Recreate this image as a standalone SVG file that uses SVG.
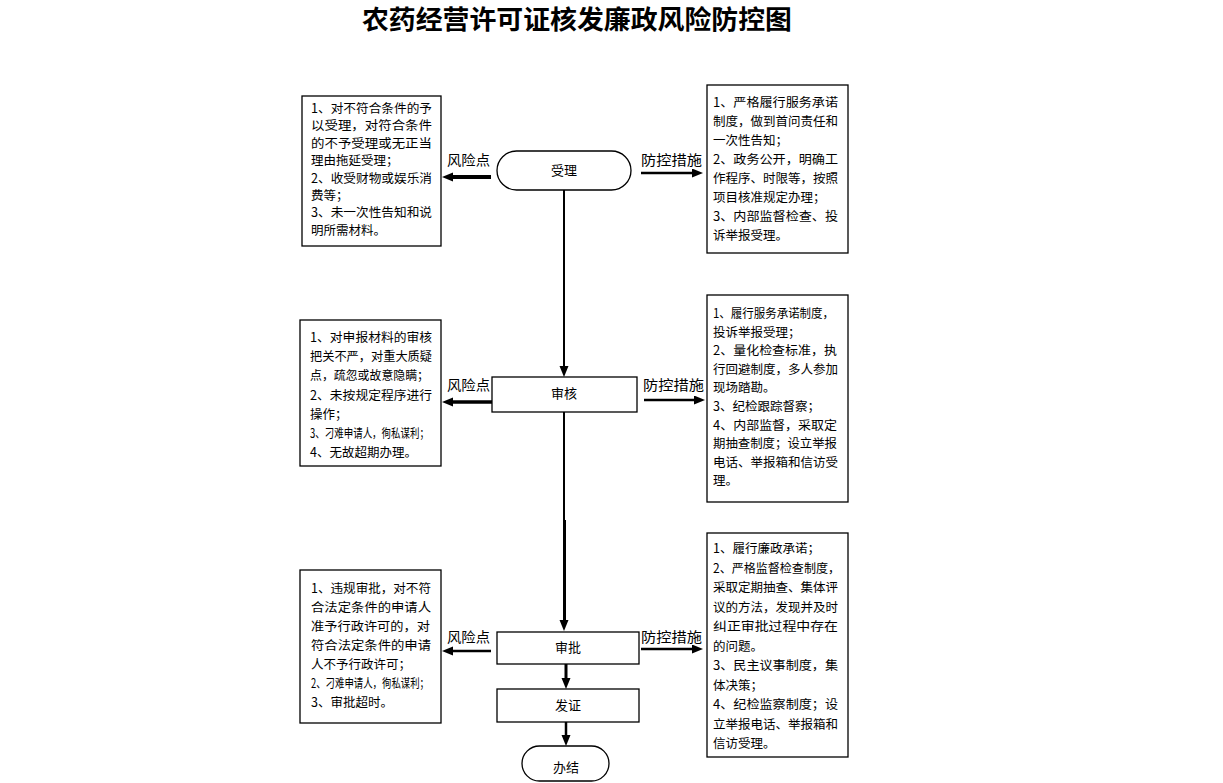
<svg xmlns="http://www.w3.org/2000/svg" width="1223" height="783" viewBox="0 0 1223 783">
<style>
.bx{fill:#fff;stroke:#000;stroke-width:1.3}
.t{font-family:"Noto Sans CJK SC","Liberation Sans",sans-serif;font-size:12.5px;fill:#000}
.n{font-family:"Noto Sans CJK SC","Liberation Sans",sans-serif;font-size:13px;fill:#000;text-anchor:middle}
.lb{font-family:"Noto Sans CJK SC","Liberation Sans",sans-serif;font-size:14px;fill:#000}
.ttl{font-family:"Noto Sans CJK SC","Liberation Sans",sans-serif;font-size:26px;font-weight:bold;fill:#000;text-anchor:middle}
.c{fill:none;stroke:#000}
</style>
<defs>
<marker id="ah" markerUnits="userSpaceOnUse" markerWidth="12" markerHeight="10" refX="1" refY="4.5" orient="auto">
<path d="M0,0 L11,4.5 L0,9 z" fill="#000"/>
</marker>
</defs>
<rect width="1223" height="783" fill="#fff"/>
<text class="ttl" x="577" y="29" textLength="430" lengthAdjust="spacingAndGlyphs">农药经营许可证核发廉政风险防控图</text>

<g id="connectors">
<line class="c" x1="564" y1="190" x2="564" y2="367" stroke-width="2" marker-end="url(#ah)"/>
<line class="c" x1="564" y1="412" x2="564" y2="621" stroke-width="2" marker-end="url(#ah)"/>
<line class="c" x1="564.5" y1="520" x2="564.5" y2="622" stroke-width="3"/>
<line class="c" x1="566" y1="664" x2="566" y2="679" stroke-width="3" marker-end="url(#ah)"/>
<line class="c" x1="566" y1="722" x2="566" y2="736" stroke-width="2.5" marker-end="url(#ah)"/>
<line class="c" x1="491" y1="177" x2="452" y2="177" stroke-width="4" marker-end="url(#ah)"/>
<line class="c" x1="641" y1="173" x2="693" y2="173" stroke-width="2.5" marker-end="url(#ah)"/>
<line class="c" x1="492" y1="402" x2="452" y2="402" stroke-width="3.5" marker-end="url(#ah)"/>
<line class="c" x1="644" y1="400" x2="695" y2="400" stroke-width="2.5" marker-end="url(#ah)"/>
<line class="c" x1="491" y1="651" x2="452" y2="651" stroke-width="2.5" marker-end="url(#ah)"/>
<line class="c" x1="641" y1="649" x2="693" y2="649" stroke-width="2.5" marker-end="url(#ah)"/>
<text class="lb" x="447" y="165" textLength="43" lengthAdjust="spacingAndGlyphs">风险点</text>
<text class="lb" x="641" y="165" textLength="61" lengthAdjust="spacingAndGlyphs">防控措施</text>
<text class="lb" x="447" y="390" textLength="43" lengthAdjust="spacingAndGlyphs">风险点</text>
<text class="lb" x="643" y="390" textLength="61" lengthAdjust="spacingAndGlyphs">防控措施</text>
<text class="lb" x="447" y="642" textLength="43" lengthAdjust="spacingAndGlyphs">风险点</text>
<text class="lb" x="641" y="642" textLength="61" lengthAdjust="spacingAndGlyphs">防控措施</text>
</g>

<g id="node-shouli">
<rect class="bx" x="497" y="151" width="134" height="39" rx="19.5" ry="19.5"/>
<text class="n" x="564" y="175">受理</text>
</g>
<g id="node-shenhe">
<rect class="bx" x="492" y="377" width="145" height="35"/>
<text class="n" x="564" y="398">审核</text>
</g>
<g id="node-shenpi">
<rect class="bx" x="497" y="632" width="142" height="32"/>
<text class="n" x="568" y="652">审批</text>
</g>
<g id="node-fazheng">
<rect class="bx" x="497" y="689" width="142" height="33"/>
<text class="n" x="568" y="710">发证</text>
</g>
<g id="node-banjie">
<rect class="bx" x="522" y="746" width="87" height="35" rx="17.5" ry="17.5"/>
<text class="n" x="566" y="772">办结</text>
</g>

<g id="risk-1">
<rect class="bx" x="302" y="96" width="139" height="150"/>
<text class="t" x="311" y="113" textLength="121" lengthAdjust="spacingAndGlyphs">1、对不符合条件的予</text>
<text class="t" x="311" y="130.4" textLength="121" lengthAdjust="spacingAndGlyphs">以受理，对符合条件</text>
<text class="t" x="311" y="147.8" textLength="121" lengthAdjust="spacingAndGlyphs">的不予受理或无正当</text>
<text class="t" x="311" y="165.2">理由拖延受理；</text>
<text class="t" x="311" y="182.6" textLength="121" lengthAdjust="spacingAndGlyphs">2、收受财物或娱乐消</text>
<text class="t" x="311" y="200">费等；</text>
<text class="t" x="311" y="217.4" textLength="121" lengthAdjust="spacingAndGlyphs">3、未一次性告知和说</text>
<text class="t" x="311" y="234.8">明所需材料。</text>
</g>

<g id="measure-1">
<rect class="bx" x="707" y="85" width="141" height="168"/>
<text class="t" x="713" y="107" textLength="125" lengthAdjust="spacingAndGlyphs">1、严格履行服务承诺</text>
<text class="t" x="713" y="126" textLength="125" lengthAdjust="spacingAndGlyphs">制度，做到首问责任和</text>
<text class="t" x="713" y="145">一次性告知；</text>
<text class="t" x="713" y="164" textLength="125" lengthAdjust="spacingAndGlyphs">2、政务公开，明确工</text>
<text class="t" x="713" y="183" textLength="125" lengthAdjust="spacingAndGlyphs">作程序、时限等，按照</text>
<text class="t" x="713" y="202">项目核准规定办理；</text>
<text class="t" x="713" y="221" textLength="125" lengthAdjust="spacingAndGlyphs">3、内部监督检查、投</text>
<text class="t" x="713" y="240">诉举报受理。</text>
</g>

<g id="risk-2">
<rect class="bx" x="300" y="320" width="141" height="146"/>
<text class="t" x="310" y="342" textLength="122" lengthAdjust="spacingAndGlyphs">1、对申报材料的审核</text>
<text class="t" x="310" y="361.2" textLength="122" lengthAdjust="spacingAndGlyphs">把关不严，对重大质疑</text>
<text class="t" x="310" y="380.4" textLength="119" lengthAdjust="spacingAndGlyphs">点，疏忽或故意隐瞒；</text>
<text class="t" x="310" y="399.6" textLength="122" lengthAdjust="spacingAndGlyphs">2、未按规定程序进行</text>
<text class="t" x="310" y="418.8">操作；</text>
<text class="t" x="310" y="438" textLength="119" lengthAdjust="spacingAndGlyphs">3、刁难申请人，徇私谋利；</text>
<text class="t" x="310" y="457.2">4、无故超期办理。</text>
</g>

<g id="measure-2">
<rect class="bx" x="707" y="295" width="141" height="207"/>
<text class="t" x="713" y="318" textLength="121" lengthAdjust="spacingAndGlyphs">1、履行服务承诺制度，</text>
<text class="t" x="713" y="336.6">投诉举报受理；</text>
<text class="t" x="713" y="355.2" textLength="124" lengthAdjust="spacingAndGlyphs">2、量化检查标准，执</text>
<text class="t" x="713" y="373.8" textLength="125" lengthAdjust="spacingAndGlyphs">行回避制度，多人参加</text>
<text class="t" x="713" y="392.4">现场踏勘。</text>
<text class="t" x="713" y="411">3、纪检跟踪督察；</text>
<text class="t" x="713" y="429.6" textLength="124" lengthAdjust="spacingAndGlyphs">4、内部监督，采取定</text>
<text class="t" x="713" y="448.2" textLength="124" lengthAdjust="spacingAndGlyphs">期抽查制度；设立举报</text>
<text class="t" x="713" y="466.8" textLength="125" lengthAdjust="spacingAndGlyphs">电话、举报箱和信访受</text>
<text class="t" x="713" y="485.4">理。</text>
</g>

<g id="risk-3">
<rect class="bx" x="300" y="570" width="141" height="153"/>
<text class="t" x="311" y="593" textLength="120" lengthAdjust="spacingAndGlyphs">1、违规审批，对不符</text>
<text class="t" x="311" y="612" textLength="120" lengthAdjust="spacingAndGlyphs">合法定条件的申请人</text>
<text class="t" x="311" y="631" textLength="119" lengthAdjust="spacingAndGlyphs">准予行政许可的，对</text>
<text class="t" x="311" y="650" textLength="120" lengthAdjust="spacingAndGlyphs">符合法定条件的申请</text>
<text class="t" x="311" y="669">人不予行政许可；</text>
<text class="t" x="311" y="688" textLength="118" lengthAdjust="spacingAndGlyphs">2、刁难申请人，徇私谋利；</text>
<text class="t" x="311" y="707">3、审批超时。</text>
</g>

<g id="measure-3">
<rect class="bx" x="707" y="533" width="141" height="224"/>
<text class="t" x="713" y="553">1、履行廉政承诺；</text>
<text class="t" x="713" y="572.5" textLength="127" lengthAdjust="spacingAndGlyphs">2、严格监督检查制度，</text>
<text class="t" x="713" y="592" textLength="125" lengthAdjust="spacingAndGlyphs">采取定期抽查、集体评</text>
<text class="t" x="713" y="611.5" textLength="125" lengthAdjust="spacingAndGlyphs">议的方法，发现并及时</text>
<text class="t" x="713" y="631" textLength="125" lengthAdjust="spacingAndGlyphs">纠正审批过程中存在</text>
<text class="t" x="713" y="650.5">的问题。</text>
<text class="t" x="713" y="670" textLength="125" lengthAdjust="spacingAndGlyphs">3、民主议事制度，集</text>
<text class="t" x="713" y="689.5">体决策；</text>
<text class="t" x="713" y="709" textLength="125" lengthAdjust="spacingAndGlyphs">4、纪检监察制度；设</text>
<text class="t" x="713" y="728.5" textLength="125" lengthAdjust="spacingAndGlyphs">立举报电话、举报箱和</text>
<text class="t" x="713" y="748">信访受理。</text>
</g>
</svg>
